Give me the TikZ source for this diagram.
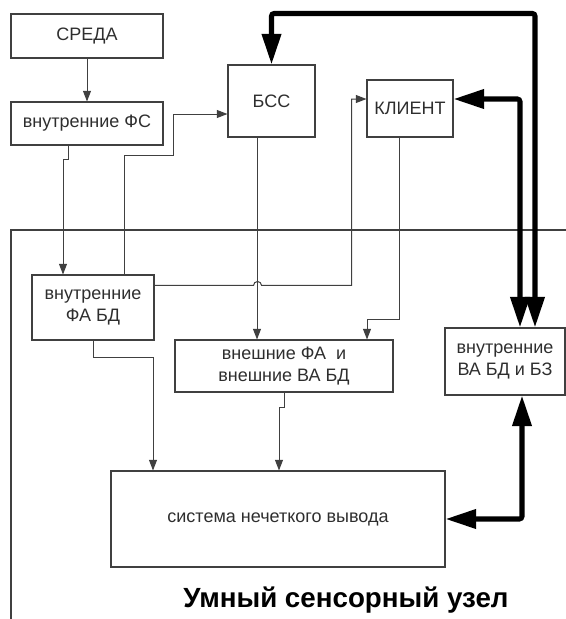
\documentclass[tikz,border=0pt]{standalone}
\usepackage{fontspec}
\setmainfont{Liberation Sans}
\usetikzlibrary{arrows.meta, positioning, calc}
\definecolor{grisLinea}{HTML}{404040}
\definecolor{grisTexto}{HTML}{2E2E2E}
\colorlet{colBorde}{grisLinea}
\colorlet{colTexto}{grisTexto}
\tikzset{
  blokBase/.style={
    draw=colBorde, line width=0.8pt,
    inner sep=0pt, align=center,
    font=\fontsize{13.5}{16.5}\selectfont, text=colTexto
  },
  strelka/.style={-{Triangle[length=8pt, width=6pt]}, line width=0.75pt, colBorde},
  strelkaTolstaya/.style={{Triangle[length=23pt, width=14pt]}-{Triangle[length=23pt, width=14pt]},
    line width=3.8pt, black, rounded corners=2pt},
  ramka/.style={draw=colBorde, line width=0.8pt},
  zagolovok/.style={font=\fontsize{20.8}{24}\selectfont\bfseries, text=black},
}

\begin{document}
\begin{tikzpicture}[x=0.75pt, y=-0.75pt]
    \useasboundingbox (0,0) rectangle (566,619);

    % frame of the node
    \draw[ramka] (11,619) -- (11,230) -- (566,230);

    \node[blokBase, minimum width=114pt, minimum height=33pt] (sreda) at (87,36) {СРЕДА};
    \node[blokBase, minimum width=114pt, minimum height=32.25pt] (vnutrFS) at (87,123.5) {внутренние ФС};
    \node[blokBase, minimum width=65.25pt, minimum height=54pt] (bss) at (271.5,101) {БСС};
    \node[blokBase, minimum width=64.5pt, minimum height=42.75pt] (klient) at (410,108.5) {КЛИЕНТ};
    \node[blokBase, minimum width=91.5pt, minimum height=48.75pt] (faBD) at (93,307.5) {внутренние\\ФА БД};
    \node[blokBase, minimum width=163.5pt, minimum height=39pt] (vneshnie) at (284,366) {внешние ФА~~и\\внешние ВА БД};
    \node[blokBase, minimum width=90pt, minimum height=50.25pt] (vaBD) at (505,361.5) {внутренние\\ВА БД и БЗ};
    \node[blokBase, minimum width=250.5pt, minimum height=72pt] (sistema) at (278,519) {система нечеткого вывода};
    \node[zagolovok] (uzel) at (346,600) {Умный сенсорный узел};

    \draw[strelka] (sreda) -- (vnutrFS);
    \draw[strelka] ($(vnutrFS.south)+(-19,0)$) |- ++(-5,14) -- ($(faBD.north)+(-30,0)$);
    \draw[strelka] ($(faBD.north)+(31,0)$) |- ++(49,-119) |- ($(bss.west)+(0,13)$);
    \draw[strelka] ($(faBD.north east)+(0,11)$) -- ++(99,0) arc[start angle=180, end angle=0, radius=3pt]
      -- ++(90,0) |- ($(klient.west)+(0,-9.5)$);
    \draw[strelka] ($(bss.south)+(-14.5,0)$) coordinate (bssOut) -- (bssOut |- vneshnie.north);
    \draw[strelka] ($(klient.south)+(-11,0)$) |- ++(-32,182) -- ($(vneshnie.north)+(83,0)$);
    \draw[strelka] (faBD.south) |- ++(60,17) -- ($(sistema.north)+(-125,0)$);
    \draw[strelka] (vneshnie.south) |- ++(-5,15) -- ($(sistema.north)+(1,0)$);

    \draw[strelkaTolstaya] ($(vaBD.north)+(30,0)$) |- ($(bss.north)+(0,-51)$) -- (bss.north);
    \draw[strelkaTolstaya] ($(vaBD.north)+(15,0)$) |- ($(klient.east)+(0,-9.5)$);
    \draw[strelkaTolstaya] ($(vaBD.south)+(17,0)$) |- (sistema.east);
  \end{tikzpicture}
\end{document}
